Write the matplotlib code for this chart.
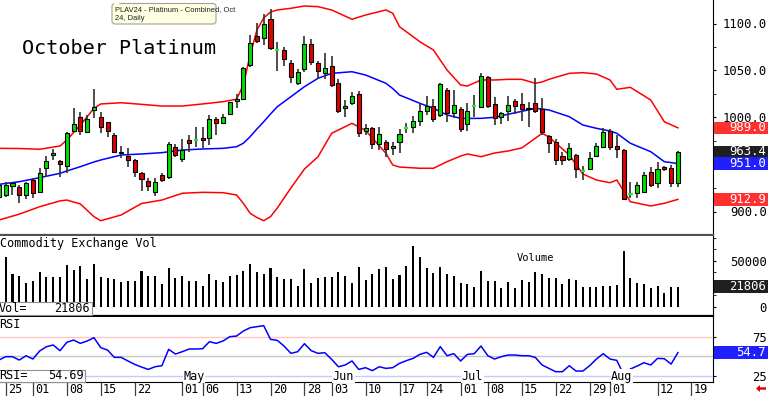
import numpy as np
import pandas as pd
import matplotlib
matplotlib.use("Agg")
import matplotlib.pyplot as plt
from matplotlib.patches import Rectangle, Polygon, FancyBboxPatch
from matplotlib.transforms import Affine2D, blended_transform_factory as blend

plt.rcParams["font.family"] = "DejaVu Sans Mono"

W, H = 768, 396

# trading days, exchange holidays removed
holidays = pd.to_datetime(["2024-03-29", "2024-05-27", "2024-06-19", "2024-07-04"])
days = pd.bdate_range("2024-03-22", "2024-08-23")
days = days[~days.isin(holidays)]

# daily candles, 2024-03-22 .. 2024-08-15
opens = [915.7, 917.6, 927.4, 925.7, 917.6, 933.5, 921.1, 946.0, 960.1, 953.7,
         948.7, 985.6, 1000.2, 984.9, 1008.0, 1000.9, 995.5, 981.4, 961.9, 959.0,
         954.8, 941.3, 932.5, 921.1, 938.8, 937.0, 968.9, 955.5, 976.1, 975.3,
         978.5, 977.9, 998.4, 994.5, 1003.4, 1017.6, 1019.7, 1055.9, 1086.7, 1084.3,
         1104.8, 1071.5, 1071.8, 1058.3, 1037.0, 1051.3, 1078.2, 1057.7, 1047.0, 1054.8,
         1037.0, 1009.8, 1015.7, 1025.0, 985.6, 988.5, 971.8, 973.6, 967.2, 974.3,
         988.8, 989.6, 996.3, 1007.2, 1012.2, 1002.7, 1029.3, 1004.5, 1008.7, 993.1,
         1011.9, 1011.5, 1043.4, 1014.0, 1000.2, 1007.2, 1017.6, 1014.0, 1010.2, 1015.1,
         1008.7, 980.3, 974.3, 959.0, 955.5, 960.1, 942.4, 945.2, 959.0, 969.0,
         986.0, 970.0, 965.4, 918.1, 919.4, 921.1, 942.3, 930.0, 947.0, 945.9,
         930.6]
highs = [932.5, 931.7, 931.7, 928.2, 931.7, 935.3, 946.0, 959.0, 966.2, 954.8,
         985.0, 1009.8, 1005.5, 1002.7, 1030.0, 1005.5, 995.5, 983.2, 970.0, 967.2,
         955.5, 942.3, 935.3, 935.3, 941.3, 974.3, 971.5, 977.1, 981.4, 989.6,
         990.2, 1002.7, 1000.9, 1003.4, 1016.8, 1024.7, 1054.0, 1087.8, 1100.2, 1110.1,
         1115.1, 1080.6, 1074.7, 1061.2, 1051.3, 1086.7, 1083.2, 1060.4, 1068.9, 1065.4,
         1040.6, 1018.6, 1027.4, 1028.5, 993.1, 989.6, 989.6, 976.1, 974.3, 987.4,
         993.8, 1001.6, 1015.7, 1022.9, 1019.4, 1037.0, 1031.1, 1029.3, 1011.5, 1015.1,
         1023.9, 1047.7, 1044.2, 1022.1, 1006.2, 1022.9, 1019.4, 1025.7, 1016.8, 1041.7,
         1020.4, 981.4, 976.8, 963.6, 973.2, 961.2, 948.4, 963.6, 973.2, 988.5,
         987.4, 981.4, 966.2, 931.7, 931.7, 942.3, 947.7, 953.0, 948.4, 949.5,
         964.6]
lows = [913.3, 915.7, 917.6, 909.4, 913.0, 914.0, 920.0, 937.0, 954.8, 937.0,
        941.3, 984.9, 981.4, 983.2, 999.2, 983.2, 979.6, 961.9, 956.6, 947.7,
        937.0, 922.1, 921.8, 916.8, 931.7, 934.3, 958.3, 953.0, 963.0, 969.0,
        967.2, 970.7, 981.4, 993.1, 1002.7, 1009.8, 1018.6, 1054.0, 1078.9, 1077.1,
        1071.8, 1049.8, 1054.8, 1037.0, 1034.6, 1048.7, 1055.8, 1040.6, 1040.6, 1032.8,
        1005.1, 1000.2, 1013.3, 979.6, 981.4, 966.2, 965.4, 958.3, 960.1, 961.9,
        983.8, 983.8, 991.0, 1002.7, 995.5, 1000.9, 995.5, 999.2, 984.9, 986.0,
        1000.9, 1009.8, 1009.8, 992.0, 993.1, 996.6, 1003.7, 996.6, 990.2, 1004.5,
        981.4, 962.6, 949.5, 949.5, 954.0, 935.3, 933.5, 944.1, 957.7, 967.2,
        965.4, 956.6, 912.2, 914.0, 914.0, 919.4, 925.7, 924.7, 943.4, 926.4,
        926.4]
closes = [928.2, 928.2, 930.0, 917.6, 930.0, 919.4, 941.3, 953.7, 961.9, 950.2,
          983.2, 992.8, 985.6, 998.1, 1010.9, 989.6, 985.6, 963.6, 963.6, 954.8,
          942.3, 934.3, 927.1, 931.7, 933.5, 971.5, 960.1, 965.4, 973.2, 975.9,
          975.7, 998.1, 994.5, 1000.9, 1016.2, 1019.7, 1052.3, 1079.6, 1081.7, 1099.5,
          1074.3, 1072.2, 1061.9, 1042.8, 1048.7, 1078.2, 1059.4, 1049.8, 1053.0, 1034.6,
          1007.2, 1012.2, 1023.2, 983.2, 988.5, 971.8, 982.4, 966.2, 969.7, 982.1,
          989.3, 996.3, 1006.9, 1012.2, 998.1, 1035.6, 1005.1, 1013.3, 987.5, 1007.2,
          1012.4, 1044.2, 1012.2, 999.2, 1005.1, 1013.3, 1012.6, 1009.0, 1009.0, 1007.2,
          984.9, 972.6, 954.8, 954.8, 967.9, 944.9, 942.8, 956.6, 969.7, 984.9,
          969.0, 966.2, 913.0, 918.6, 928.2, 938.8, 928.2, 944.9, 944.9, 930.6,
          963.4]

# volume from 2024-03-25 (the 03-22 bar sits off the left edge)
volume = [54300, 35100, 33300, 25400, 27900, 38000, 31900, 32600, 32600, 45300,
          39900, 44200, 30100, 46000, 31900, 30800, 30100, 26400, 28300, 28300,
          39100, 33300, 33700, 24600, 42400, 30800, 33000, 28300, 28300, 22800,
          35500, 29000, 26400, 33300, 34400, 38800, 46700, 37300, 35500, 42400,
          31900, 30100, 30100, 22500, 41300, 26100, 30800, 32600, 32600, 37300,
          33300, 25400, 43500, 29000, 35100, 40900, 43500, 30100, 34400, 44600,
          65900, 53600, 42400, 37000, 42800, 35500, 33300, 26100, 24600, 21000,
          38800, 28300, 27500, 19900, 26400, 19900, 28600, 26400, 38000, 35900,
          30800, 31500, 24300, 30100, 29300, 21000, 21000, 21000, 22800, 22500,
          23500, 60900, 31500, 26100, 24300, 19900, 22800, 14500, 21000, 21806]

rsi = [45.3, 49.6, 49.6, 45.3, 50.8, 46.6, 56.8, 62.3, 64.4, 57.2,
       67.8, 70.7, 66.5, 69.5, 73.7, 61.0, 58.0, 48.7, 48.7, 44.1,
       39.8, 36.4, 33.4, 36.8, 38.1, 58.9, 52.9, 55.9, 59.3, 59.3,
       59.7, 68.6, 66.5, 69.5, 75.0, 75.8, 82.2, 86.4, 87.7, 89.0,
       71.6, 70.3, 63.1, 53.8, 55.9, 66.1, 57.2, 53.8, 54.6, 46.2,
       36.8, 39.0, 44.1, 33.4, 35.6, 31.8, 36.8, 34.7, 35.6, 41.1,
       44.5, 47.4, 52.5, 55.1, 48.7, 62.3, 50.8, 53.4, 44.1, 52.5,
       53.4, 63.1, 50.8, 46.6, 49.6, 51.7, 51.7, 50.8, 50.8, 48.7,
       39.0, 34.7, 30.5, 30.5, 38.1, 31.3, 31.3, 38.1, 46.6, 53.4,
       46.6, 44.9, 27.1, 33.9, 37.7, 41.9, 39.0, 47.4, 47.0, 40.2,
       54.69]

# bollinger bands read at these days
band_dates = ["2024-03-22", "2024-03-27", "2024-04-02", "2024-04-05", "2024-04-08",
              "2024-04-10", "2024-04-12", "2024-04-15", "2024-04-18", "2024-04-23",
              "2024-04-26", "2024-05-01", "2024-05-06", "2024-05-09", "2024-05-13",
              "2024-05-14", "2024-05-15", "2024-05-16", "2024-05-17", "2024-05-20",
              "2024-05-21", "2024-05-23", "2024-05-28", "2024-05-30", "2024-06-03",
              "2024-06-06", "2024-06-10", "2024-06-13", "2024-06-14", "2024-06-17",
              "2024-06-21", "2024-06-25", "2024-06-27", "2024-07-01", "2024-07-02",
              "2024-07-05", "2024-07-09", "2024-07-11", "2024-07-15", "2024-07-17",
              "2024-07-18", "2024-07-19", "2024-07-24", "2024-07-26", "2024-07-30",
              "2024-08-01", "2024-08-02", "2024-08-06", "2024-08-09", "2024-08-13",
              "2024-08-15"]
upper = [967.2, 967.0, 966.2, 969.7, 976.1, 992.0, 1009.8, 1014.4, 1015.7, 1014.0,
         1012.2, 1012.2, 1014.4, 1016.8, 1019.4, 1034.6, 1066.5, 1093.1, 1105.9, 1112.2,
         1114.4, 1116.2, 1118.6, 1117.9, 1114.4, 1104.5, 1109.0, 1114.4, 1110.9, 1096.6,
         1080.6, 1071.8, 1050.5, 1034.6, 1033.5, 1039.9, 1039.9, 1040.6, 1040.6, 1036.4,
         1037.8, 1040.6, 1047.0, 1047.7, 1046.3, 1039.9, 1030.0, 1032.1, 1018.6, 995.5,
         989.0]
middle = [928.9, 931.7, 936.0, 940.6, 943.1, 947.7, 952.7, 954.8, 960.1, 961.2,
          962.6, 965.4, 966.5, 967.2, 968.9, 972.6, 979.6, 987.8, 995.5, 1003.7,
          1011.5, 1022.1, 1032.8, 1041.7, 1047.0, 1048.7, 1045.2, 1036.4, 1030.8, 1023.9,
          1015.1, 1009.8, 1002.7, 999.1, 999.0, 999.1, 1000.2, 1003.5, 1006.5, 1009.8,
          1009.0, 1008.0, 1000.9, 992.0, 988.5, 985.6, 983.2, 972.6, 963.6, 953.0,
          951.0]
lower = [890.9, 897.2, 905.1, 911.3, 912.2, 908.0, 894.5, 890.2, 896.3, 908.5,
         912.2, 919.4, 920.4, 920.0, 917.6, 908.7, 898.1, 893.6, 890.2, 894.5,
         903.7, 925.0, 945.2, 958.3, 983.2, 993.8, 986.2, 961.9, 949.5, 947.3,
         946.0, 946.0, 953.0, 959.0, 961.2, 958.3, 962.2, 964.4, 967.6, 977.9,
         983.2, 979.3, 960.1, 939.9, 933.5, 930.6, 933.5, 910.4, 905.9, 908.7,
         912.9]

tick_dates = ["2024-03-25", "2024-04-01", "2024-04-08", "2024-04-15", "2024-04-22",
              "2024-05-01", "2024-05-06", "2024-05-13", "2024-05-20", "2024-05-28",
              "2024-06-03", "2024-06-10", "2024-06-17", "2024-06-24", "2024-07-01",
              "2024-07-08", "2024-07-15", "2024-07-22", "2024-07-29", "2024-08-01",
              "2024-08-12", "2024-08-19"]
tick_labels = ["25", "01", "08", "15", "22", "01", "06", "13", "20", "28", "03",
               "10", "17", "24", "01", "08", "15", "22", "29", "01", "12", "19"]
month_dates = ["2024-05-01", "2024-06-03", "2024-07-01", "2024-08-01"]
month_labels = ["May", "Jun", "Jul", "Aug"]


def pos(d):
    return days.get_loc(pd.Timestamp(d))


UP, DOWN = "#00E000", "#E00000"

fig = plt.figure(figsize=(W / 100, H / 100), dpi=100)
pix = Affine2D().scale(1 / W, -1 / H).translate(0, 1) + fig.transFigure


def panel(y0, y1):
    a = fig.add_axes([0, 1 - y1 / H, 713 / W, (y1 - y0) / H])
    a.set_xlim(0.16, 105.17)
    a.set_xticks([])
    a.spines["left"].set_visible(False)
    a.spines["top"].set_visible(False)
    a.yaxis.tick_right()
    a.tick_params(axis="y", which="both", direction="out", length=2.2, pad=36.7,
                  labelsize=8.8, colors="black")
    return a


ax = panel(0, 235)
axv = panel(236, 316)
axr = panel(317, 382)
ax.spines["bottom"].set_color("#505050")
ax.spines["bottom"].set_linewidth(1.6)
axv.spines["bottom"].set_linewidth(1.6)

# ---- price panel
x = np.arange(len(opens))
for i in x:
    o, h, l, c = opens[i], highs[i], lows[i], closes[i]
    ax.vlines(i, l, h, color="#303030", lw=1.2, zorder=2)
    if abs(c - o) < 1.0:
        ax.hlines((o + c) / 2, i - 0.32, i + 0.32, color="#22EE22", lw=1.6, zorder=3)
    else:
        ax.add_patch(Rectangle((i - 0.3, min(o, c)), 0.6, abs(c - o),
                               facecolor=UP if c > o else DOWN,
                               edgecolor="black", lw=0.8, zorder=3))

bx = [pos(d) for d in band_dates]
ax.plot(bx, upper, color="#FF0000", lw=1.1, zorder=1)
ax.plot(bx, lower, color="#FF0000", lw=1.1, zorder=1)
ax.plot(bx, middle, color="#0000FF", lw=1.1, zorder=1)

ax.set_ylim(875, 1125)
ax.set_yticks([900, 950, 1000, 1050, 1100])
# 950.0 sits fully under the blue value box, as in the source chart
ax.set_yticklabels(["900.0", "", "1000.0", "1050.0", "1100.0"])
ax.set_yticks([925, 975, 1025, 1075], minor=True)

# ---- volume panel
axv.bar(np.arange(1, len(volume) + 1), volume, width=0.3, color="black")
axv.set_ylim(-10100, 76850)
axv.set_yticks([0, 25000, 50000])
axv.set_yticklabels(["0", "25000", "50000"])
axv.set_yticks([12500, 37500, 62500, 75000], minor=True)

# ---- rsi panel
axr.axhline(75, color="#FFC4C4", lw=1)
axr.axhline(50, color="#C8C8C8", lw=1)
axr.axhline(25, color="#C4CCFF", lw=1)
axr.plot(x, rsi, color="#0000FF", lw=1.1, zorder=2)
axr.set_ylim(17.4, 100)
axr.set_yticks([25, 50, 75])
axr.set_yticklabels(["25", "", "75"])

for a in (ax, axv, axr):
    for t in a.get_yticklabels():
        t.set_ha("right")

for d, lbl in zip(month_dates, month_labels):
    axr.annotate(lbl, xy=(pos(d), 25), xytext=(0.8, 0), textcoords="offset points",
                 ha="left", va="center", fontsize=8.5, zorder=4,
                 bbox=dict(boxstyle="square,pad=0.05", facecolor="white", edgecolor="none"))

# date axis below the rsi panel
tb = blend(axr.transData, axr.transAxes)
for d, lbl in zip(tick_dates, tick_labels):
    p = pos(d)
    axr.plot([p, p], [0, -14 / 65], transform=tb, color="#404040", lw=0.9, clip_on=False)
    axr.annotate(lbl, xy=(p, 0), xycoords=tb, xytext=(1.6, -5.2),
                 textcoords="offset points", ha="left", va="center", fontsize=8.5)


# ---- right-hand value boxes
def value_box(a, val, txt, color):
    lo, hi = a.get_ylim()
    h = 12.5 * (hi - lo) / (a.get_position().height * H)
    tr = blend(fig.transFigure, a.transData)
    fig.add_artist(Rectangle((714 / W, val - h / 2), 54 / W, h, transform=tr,
                             facecolor=color, edgecolor="none", zorder=5))
    fig.text(766 / W, val, txt, transform=tr, ha="right", va="center",
             color="white", fontsize=8.8, zorder=6)


value_box(ax, upper[-1], f"{upper[-1]:.1f}", "#FF3030")
value_box(ax, closes[-1], f"{closes[-1]:.1f}", "#202020")
value_box(ax, middle[-1], f"{middle[-1]:.1f}", "#2020FF")
value_box(ax, lower[-1], f"{lower[-1]:.1f}", "#FF3030")
value_box(axv, volume[-1], f"{volume[-1]}", "#202020")
value_box(axr, rsi[-1], f"{rsi[-1]:.1f}", "#2020FF")

# ---- texts and legends
fig.text(22, 48, "October Platinum", transform=pix, fontsize=14.5, va="center")
fig.text(0, 243, "Commodity Exchange Vol", transform=pix, fontsize=8.5, va="center")
fig.text(517, 258, "Volume", transform=pix, fontsize=7.5, va="center")
fig.text(-1, 324, "RSI", transform=pix, fontsize=8.5, va="center")

fig.add_artist(Rectangle((-1, 302), 93, 13, transform=pix, facecolor="white",
                         edgecolor="#909090", lw=0.8, zorder=5))
fig.text(-1, 308.5, "Vol=", transform=pix, fontsize=8.5, va="center", zorder=6)
fig.text(90, 308.5, f"{volume[-1]}", transform=pix, fontsize=8.5, va="center",
         ha="right", zorder=6)
fig.add_artist(Rectangle((-1, 369.5), 86, 12.5, transform=pix, facecolor="white",
                         edgecolor="#909090", lw=0.8, zorder=5))
fig.text(-1, 375.5, "RSI=", transform=pix, fontsize=8.5, va="center", zorder=6)
fig.text(84, 375.5, f"{rsi[-1]:.2f}", transform=pix, fontsize=8.5, va="center",
         ha="right", zorder=6)

# tooltip
fig.add_artist(FancyBboxPatch((112, 3.5), 104, 20.5, transform=pix,
                              boxstyle="round,pad=0,rounding_size=3",
                              facecolor="#FFFFE1", edgecolor="#A0A0A0", lw=0.8, zorder=7))
fig.add_artist(Polygon([(114, 4), (115, -1), (120, 4)], closed=True, transform=pix,
                       facecolor="#FFFFE1", edgecolor="none", zorder=8))
fig.text(115, 9.5, "PLAV24 - Platinum - Combined, Oct", transform=pix,
         family="Liberation Sans", fontsize=5.4, va="center", color="#202020", zorder=9)
fig.text(115, 18, "24, Daily", transform=pix, family="Liberation Sans",
         fontsize=5.4, va="center", color="#202020", zorder=9)

# red arrow bottom right
fig.add_artist(Polygon([(756, 388.5), (760, 385), (760, 387.3), (766, 387.3),
                        (766, 389.7), (760, 389.7), (760, 392)], closed=True,
                       transform=pix, facecolor="#E00000", edgecolor="none"))

fig.savefig("out.png", dpi=100)
